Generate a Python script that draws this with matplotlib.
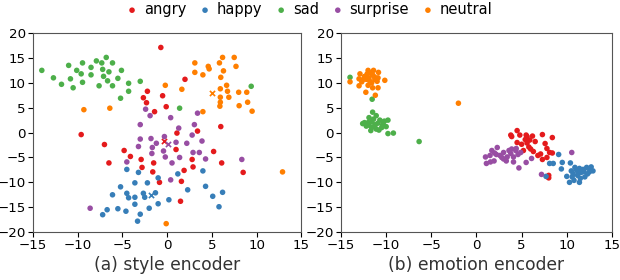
import matplotlib
matplotlib.use('Agg')
import matplotlib.pyplot as plt

plt.rcParams['font.family'] = ['DejaVu Sans']

emotions = ['angry', 'happy', 'sad', 'surprise', 'neutral']
colors = ['#e41a1c', '#377eb8', '#4daf4a', '#984ea3', '#ff7f00']

# (a) style encoder embeddings
style_pts = {
    'angry': [(-0.7, 17.1), (2.0, 10.7), (-2.2, 8.3), (-2.65, 7.0), (-2.3, 6.0), (-0.5, 7.4),
              (-0.1, 5.2), (-1.4, 4.2), (6.0, 1.2), (3.4, 0.3), (1.1, -0.1), (-9.6, -0.4),
              (-7.0, -2.4), (-6.5, -6.1), (-4.8, -3.6), (-4.1, -4.8), (-2.9, -5.4), (-2.8, -7.0),
              (-1.5, -6.1), (-1.6, -7.9), (-0.85, -10.0), (1.0, -3.4), (5.2, -3.8), (6.1, -6.1),
              (2.8, -5.4), (2.9, -6.9), (1.9, -7.6), (1.6, -9.8), (1.5, -13.8), (8.5, -8.0)],
    'happy': [(-4.5, -7.4), (-3.2, -8.0), (-3.6, -10.1), (-2.2, -10.1), (-1.0, -9.1), (1.2, -8.3),
              (4.0, -7.7), (4.3, -10.8), (2.3, -11.5), (-5.2, -10.9), (-4.5, -12.2), (-4.3, -13.1),
              (-3.6, -13.0), (-2.65, -12.2), (-2.5, -13.0), (-1.3, -12.1), (-6.1, -12.5), (-3.6, -14.4),
              (-1.0, -14.3), (0.2, -13.5), (5.1, -12.8), (6.2, -12.0), (5.8, -14.9), (-2.0, -15.2),
              (-3.0, -16.4), (-3.3, -17.8), (-4.6, -15.8), (-5.5, -15.3), (-6.7, -15.5), (-7.2, -16.5)],
    'sad': [(-14.0, 12.5), (-12.7, 11.0), (-11.8, 9.7), (-11.0, 13.5), (-10.8, 10.8), (-10.5, 9.0),
            (-10.1, 12.5), (-9.6, 11.8), (-9.45, 14.0), (-9.45, 10.1), (-8.5, 13.1), (-8.5, 11.6),
            (-7.9, 14.4), (-7.6, 9.4), (-7.3, 14.0), (-7.2, 12.7), (-7.1, 11.3), (-6.8, 15.1),
            (-6.65, 10.4), (-6.5, 12.2), (-6.1, 14.0), (-6.1, 9.4), (-5.5, 10.9), (-5.2, 6.9),
            (-5.1, 12.5), (-4.3, 9.9), (-4.3, 8.3), (-3.0, 10.3), (1.4, 4.9), (9.4, 9.3)],
    'surprise': [(-2.4, 4.7), (-1.9, 3.4), (-3.0, 1.6), (0.4, 3.0), (3.4, 3.9), (3.05, 1.6),
                 (1.3, 0.9), (-3.0, -1.3), (-1.8, -1.2), (-0.3, -0.8), (2.8, -0.5), (3.9, -1.7),
                 (-3.2, -2.8), (-1.2, -2.15), (-1.65, -3.0), (-1.7, -4.2), (-0.4, -3.7), (1.0, -1.95),
                 (2.2, -2.15), (-0.2, -4.9), (1.4, -5.0), (2.9, -4.0), (3.6, -4.0), (4.3, -5.3),
                 (0.55, -6.1), (-4.5, -5.9), (0.4, -9.5), (8.35, -5.4), (-8.6, -15.2)],
    'neutral': [(-9.3, 4.6), (-6.4, 4.9), (-0.2, 9.5), (1.65, 8.7), (3.1, 14.0), (3.1, 12.1),
                (4.0, 11.6), (4.6, 13.3), (4.7, 12.8), (4.0, 4.2), (5.85, 14.0), (6.0, 11.1),
                (6.2, 15.1), (6.3, 12.4), (7.5, 15.1), (7.7, 13.3), (6.65, 9.5), (5.95, 8.8),
                (6.75, 8.3), (5.95, 7.1), (6.9, 7.1), (5.95, 6.1), (5.9, 5.3), (8.0, 8.1),
                (8.9, 8.1), (8.05, 5.4), (9.0, 6.1), (9.5, 4.3), (12.9, -7.9), (-0.1, -18.3)],
}
style_centers = {'angry': (-0.3, -1.7), 'happy': (-1.8, -12.6), 'sad': (-7.5, 11.5),
                 'surprise': (0.15, -2.35), 'neutral': (5.0, 7.9)}

# (b) emotion encoder embeddings
emo_pts = {
    'angry': [(4.5, 0.4), (3.8, -0.5), (3.9, -0.8), (4.8, -0.5), (5.5, -0.5), (6.2, -0.7),
              (7.3, -0.4), (8.4, -1.0), (4.5, -2.0), (5.0, -2.35), (5.6, -2.1), (5.8, -2.9),
              (6.0, -3.3), (6.3, -3.8), (7.6, -2.2), (7.8, -3.2), (8.1, -4.0), (6.8, -4.6),
              (7.1, -4.3), (7.3, -5.4), (7.8, -5.0), (8.4, -4.1), (5.4, -1.4), (5.9, -1.5),
              (5.6, -0.8), (6.5, -1.8), (5.2, -3.6), (8.0, -8.6), (8.0, -9.1), (7.9, -8.9)],
    'happy': [(9.1, -4.4), (8.1, -6.2), (8.5, -6.2), (9.5, -6.0), (9.4, -7.3), (10.4, -6.1),
              (10.0, -8.8), (10.3, -10.0), (11.4, -10.0), (11.4, -7.2), (12.2, -7.0), (12.7, -6.9),
              (12.9, -7.7), (12.5, -7.9), (10.7, -8.3), (11.1, -7.6), (11.6, -8.0), (12.0, -8.9),
              (7.7, -8.8), (10.9, -7.0), (11.2, -8.6), (11.8, -7.4), (10.6, -8.9), (11.5, -9.2),
              (12.3, -8.3), (10.8, -9.6), (11.9, -7.8), (12.6, -7.5), (11.3, -7.9), (10.5, -7.7)],
    'sad': [(-14.0, 11.1), (-11.55, 6.7), (-11.5, 4.1), (-11.9, 3.0), (-11.1, 3.4), (-12.4, 2.0),
            (-12.0, 2.0), (-11.6, 2.2), (-11.2, 1.6), (-10.7, 2.5), (-10.3, 2.1), (-9.8, 2.5),
            (-12.2, 1.3), (-11.6, 1.0), (-11.1, 0.7), (-10.5, 1.0), (-10.0, 1.2), (-11.7, 0.4),
            (-9.8, -0.2), (-9.2, -0.1), (-12.6, 1.8), (-11.4, 2.7), (-10.9, 1.9), (-10.4, 1.5),
            (-11.9, 1.5), (-10.8, 0.5), (-11.3, 1.3), (-10.2, 2.3), (-6.35, -1.8)],
    'surprise': [(1.0, -4.9), (1.1, -6.2), (1.55, -5.9), (1.7, -3.6), (2.2, -4.4), (2.3, -3.0),
                 (2.8, -5.0), (3.0, -4.0), (3.6, -3.6), (3.8, -4.2), (4.1, -4.9), (4.35, -3.6),
                 (4.6, -4.4), (4.7, -7.1), (5.5, -6.0), (6.1, -5.2), (7.2, -8.4), (10.55, -4.0),
                 (4.1, -5.9), (3.3, -5.7), (1.95, -5.7), (2.6, -4.6), (3.4, -4.9), (4.4, -3.2),
                 (2.0, -4.1), (3.0, -5.3), (4.9, -4.0), (1.5, -4.6), (3.9, -3.3)],
    'neutral': [(-14.0, 10.2), (-12.9, 11.8), (-13.0, 10.8), (-12.4, 11.2), (-12.0, 12.5),
                (-11.4, 12.5), (-10.85, 12.1), (-11.5, 11.6), (-12.2, 10.7), (-11.8, 10.3),
                (-11.25, 10.7), (-11.0, 10.3), (-12.35, 11.3), (-10.15, 10.5), (-13.0, 9.4),
                (-12.0, 9.5), (-11.5, 9.0), (-10.9, 9.0), (-12.25, 8.1), (-11.2, 7.5),
                (-11.6, 10.0), (-12.6, 10.6), (-11.9, 11.0), (-11.3, 11.2), (-12.1, 11.8),
                (-10.9, 11.0), (-12.7, 10.2), (-11.7, 12.0), (-2.0, 5.9)],
}

fig = plt.figure(figsize=(6.2, 2.8), dpi=100)
ax1 = fig.add_axes([0.053, 0.171, 0.433, 0.711])
ax2 = fig.add_axes([0.55, 0.171, 0.437, 0.711])

for emo, col in zip(emotions, colors):
    xs, ys = zip(*style_pts[emo])
    ax1.scatter(xs, ys, s=16, color=col, edgecolors='none', label=emo)
    cx, cy = style_centers[emo]
    if emo != 'sad':
        ax1.scatter([cx], [cy], s=14, color=col, marker='x', linewidths=1.2)
    xs, ys = zip(*emo_pts[emo])
    ax2.scatter(xs, ys, s=16, color=col, edgecolors='none')

for ax, cap in [(ax1, '(a) style encoder'), (ax2, '(b) emotion encoder')]:
    ax.set_xlim(-15, 15)
    ax.set_ylim(-20, 20)
    ax.set_xticks(range(-15, 16, 5))
    ax.set_yticks(range(-20, 21, 5))
    ax.tick_params(labelsize=9.6, length=3.5, pad=1.5)
    for sp in ax.spines.values():
        sp.set_color('#555555')
        sp.set_linewidth(0.8)
    ax.text(0.5, -0.165, cap, transform=ax.transAxes, ha='center', va='center',
            fontsize=12.3, color='#333333')

fig.legend(*ax1.get_legend_handles_labels(), loc='center', bbox_to_anchor=(0.5, 0.966),
           ncol=5, frameon=False, fontsize=10.5, handlelength=0.6, handletextpad=0.5,
           columnspacing=1.0, markerscale=1.0, borderpad=0.1)

plt.savefig('out.png', dpi=100)
plt.close()
